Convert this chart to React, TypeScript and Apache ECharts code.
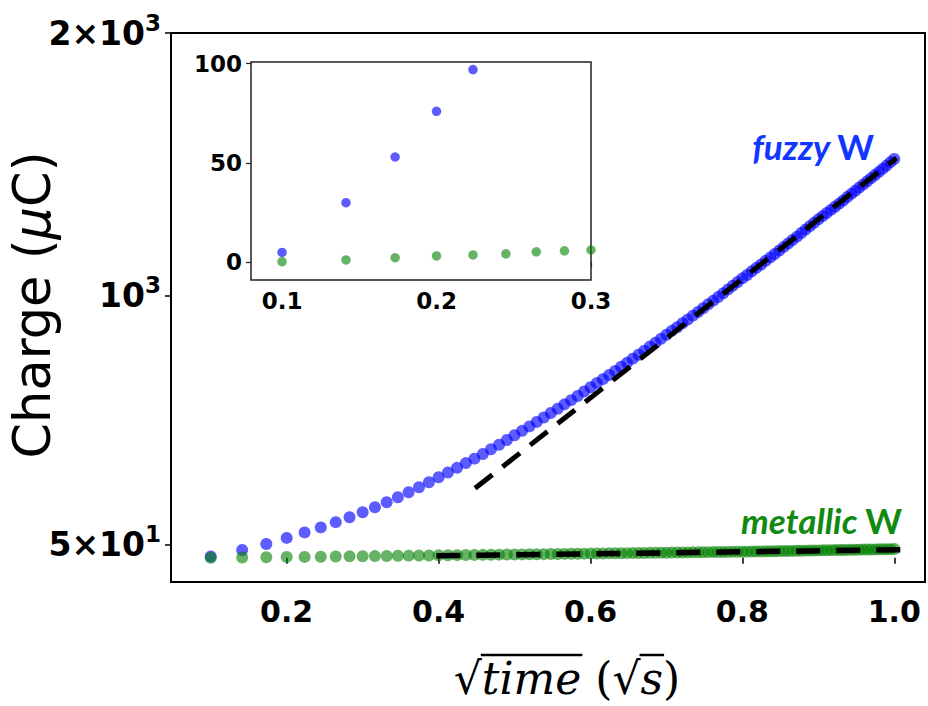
import React, { useEffect, useRef } from "react";
import * as echarts from "echarts";

// sqrt(time) sample positions (s^0.5)
const sqrtTime = [
  0.1, 0.1414, 0.1732, 0.2, 0.2236, 0.2449, 0.2646, 0.2828, 0.3, 0.3162,
  0.3317, 0.3464, 0.3606, 0.3742, 0.3873, 0.4, 0.4123, 0.4243, 0.4359, 0.4472,
  0.4583, 0.469, 0.4796, 0.4899, 0.5, 0.5099, 0.5196, 0.5292, 0.5385, 0.5477,
  0.5568, 0.5657, 0.5745, 0.5831, 0.5916, 0.6, 0.6083, 0.6164, 0.6245, 0.6325,
  0.6403, 0.6481, 0.6557, 0.6633, 0.6708, 0.6782, 0.6856, 0.6928, 0.7, 0.7071,
  0.7141, 0.7211, 0.728, 0.7348, 0.7416, 0.7483, 0.755, 0.7616, 0.7681, 0.7746,
  0.781, 0.7874, 0.7937, 0.8, 0.8062, 0.8124, 0.8185, 0.8246, 0.8307, 0.8367,
  0.8426, 0.8485, 0.8544, 0.8602, 0.866, 0.8718, 0.8775, 0.8832, 0.8888, 0.8944,
  0.9, 0.9055, 0.911, 0.9165, 0.922, 0.9274, 0.9327, 0.9381, 0.9434, 0.9487,
  0.9539, 0.9592, 0.9644, 0.9695, 0.9747, 0.9798, 0.9849, 0.9899, 0.995, 1.0,
];

// fuzzy W charge (µC)
const fuzzyCharge = [
  5, 30, 53, 76, 97, 116, 136, 155, 174, 193,
  212, 231, 250, 269, 288, 307, 325, 343, 361, 378,
  396, 414, 431, 449, 467, 484, 501, 518, 535, 552,
  568, 585, 601, 617, 634, 650, 666, 681, 697, 712,
  728, 743, 759, 774, 789, 805, 820, 835, 850, 865,
  879, 894, 908, 923, 937, 951, 966, 980, 994, 1008,
  1023, 1037, 1051, 1065, 1078, 1092, 1105, 1118, 1132, 1145,
  1158, 1171, 1185, 1198, 1211, 1224, 1238, 1251, 1264, 1277,
  1290, 1302, 1314, 1326, 1338, 1350, 1362, 1375, 1387, 1399,
  1411, 1423, 1435, 1447, 1459, 1471, 1483, 1495, 1508, 1520,
];

// metallic W charge (µC)
const metallicCharge = [
  0.3, 1.2, 2.3, 3.2, 3.7, 4.3, 5.3, 5.8, 6.2, 6.8,
  7.3, 7.8, 8.3, 8.7, 9.1, 9.6, 10.0, 10.4, 10.8, 11.2,
  11.5, 11.9, 12.2, 12.6, 12.9, 13.2, 13.5, 13.9, 14.2, 14.5,
  14.8, 15.1, 15.4, 15.7, 16.0, 16.3, 16.6, 16.8, 17.1, 17.4,
  17.7, 17.9, 18.2, 18.5, 18.7, 19.0, 19.2, 19.5, 19.7, 20.0,
  20.2, 20.5, 20.7, 21.0, 21.2, 21.4, 21.7, 21.9, 22.1, 22.4,
  22.6, 22.8, 23.0, 23.3, 23.6, 23.9, 24.2, 24.5, 24.8, 25.1,
  25.4, 25.7, 26.0, 26.3, 26.6, 26.9, 27.2, 27.5, 27.8, 28.1,
  28.4, 28.7, 29.0, 29.3, 29.5, 29.8, 30.1, 30.4, 30.6, 30.9,
  31.2, 31.4, 31.7, 32.0, 32.2, 32.5, 32.7, 33.0, 33.2, 33.5,
];

// linear fits (dashed)
const fuzzyFitX = [0.448, 1.003];
const fuzzyFitY = [265, 1524];
const metallicFitX = [0.397, 1.015];
const metallicFitY = [8, 31];

// ticks
const mainXTicks = [0.2, 0.4, 0.6, 0.8, 1.0];
const mainYTicks = [50, 1000, 2000];
const mainYMantissa = ["5×10", "10", "2×10"];
const mainYExponent = ["1", "3", "3"];
const insetXTicks = [0.1, 0.2, 0.3];
const insetYTicks = [0, 50, 100];

const seriesLabels = ["fuzzy", "metallic"];

export default function App() {
  const ref = useRef<HTMLDivElement>(null);

  useEffect(() => {
    if (!ref.current) return;
    const chart = echarts.init(ref.current, null, { renderer: "svg" });

    const canvas = document.createElement("canvas");
    const ctx = canvas.getContext("2d")!;
    const tw = (font: string, s: string) => {
      ctx.font = font;
      return ctx.measureText(s).width;
    };

    // x-axis title pieces
    const fs = 44;
    const fam = '"DejaVu Serif"';
    const upright = `${fs}px ${fam}`;
    const ital = `italic ${fs}px ${fam}`;
    const pieces = [
      { t: "√", f: upright, it: false, bar: false },
      { t: "time", f: ital, it: true, bar: true },
      { t: " (", f: upright, it: false, bar: false },
      { t: "√", f: upright, it: false, bar: false },
      { t: "s", f: ital, it: true, bar: true },
      { t: ")", f: upright, it: false, bar: false },
    ];
    const widths = pieces.map((p) => tw(p.f, p.t));
    const total = widths.reduce((a, b) => a + b, 0);
    let cx = 567 - total / 2;
    const titleY = 678;
    const barY = 655;
    const xTitleChildren: any[] = [];
    pieces.forEach((p, i) => {
      xTitleChildren.push({
        type: "text",
        x: cx,
        y: titleY,
        style: {
          text: p.t,
          fontSize: fs,
          fontFamily: "DejaVu Serif",
          fontStyle: p.it ? "italic" : "normal",
          fill: "#000",
          align: "left",
          verticalAlign: "middle",
        },
      });
      if (p.bar) {
        xTitleChildren.push({
          type: "line",
          shape: { x1: cx - 1, y1: barY, x2: cx + widths[i] + 1, y2: barY },
          style: { stroke: "#000", lineWidth: 2.5 },
        });
      }
      cx += widths[i];
    });

    const tickFont = {
      fontFamily: "DejaVu Sans",
      fontWeight: "bold" as const,
      color: "#000",
    };

    const mainData = (ys: number[]) => sqrtTime.map((x, i) => [x, ys[i]]);
    const blue = "rgba(0,0,255,0.8)";
    const green = "rgba(0,128,0,0.75)";
    const labelFs = 35;

    chart.setOption({
      animation: false,
      backgroundColor: "#fff",
      grid: [
        {
          left: 171,
          top: 33,
          width: 754,
          height: 549,
          show: true,
          borderColor: "#000",
          borderWidth: 2,
          backgroundColor: "transparent",
          outerBoundsMode: "none",
        },
        {
          left: 251,
          top: 62,
          width: 340,
          height: 218,
          show: true,
          borderColor: "#222",
          borderWidth: 1.5,
          backgroundColor: "#fff",
          outerBoundsMode: "none",
          z: 5,
        },
      ],
      xAxis: [
        {
          type: "value",
          gridIndex: 0,
          min: 0.0477,
          max: 1.0404,
          axisLine: { show: false },
          splitLine: { show: false },
          axisTick: {
            show: true,
            customValues: mainXTicks,
            length: 6,
            lineStyle: { color: "#000", width: 1.5 },
          },
          axisLabel: {
            customValues: mainXTicks,
            formatter: (v: number) => v.toFixed(1),
            fontSize: 30,
            margin: 14,
            ...tickFont,
          },
        },
        {
          type: "value",
          gridIndex: 1,
          min: 0.0799,
          max: 0.3,
          axisLine: { show: false },
          splitLine: { show: false },
          axisTick: {
            show: true,
            customValues: insetXTicks,
            length: 5,
            lineStyle: { color: "#222", width: 1.2 },
          },
          axisLabel: {
            customValues: insetXTicks,
            formatter: (v: number) => v.toFixed(1),
            fontSize: 23,
            margin: 9,
            ...tickFont,
          },
        },
      ],
      yAxis: [
        {
          type: "value",
          gridIndex: 0,
          min: -92,
          max: 2000,
          axisLine: { show: false },
          splitLine: { show: false },
          axisTick: {
            show: true,
            customValues: mainYTicks,
            length: 6,
            lineStyle: { color: "#000", width: 1.5 },
          },
          axisLabel: {
            customValues: mainYTicks,
            margin: 10,
            formatter: (v: number) => {
              const i = mainYTicks.indexOf(v);
              return `{b|${mainYMantissa[i]}}{s|${mainYExponent[i]}}`;
            },
            rich: {
              b: { fontSize: 33, lineHeight: 44, ...tickFont },
              s: { fontSize: 23, verticalAlign: "top", ...tickFont },
            },
          },
        },
        {
          type: "value",
          gridIndex: 1,
          min: -8.9,
          max: 100.8,
          axisLine: { show: false },
          splitLine: { show: false },
          axisTick: {
            show: true,
            customValues: insetYTicks,
            length: 5,
            lineStyle: { color: "#222", width: 1.2 },
          },
          axisLabel: {
            customValues: insetYTicks,
            formatter: (v: number) => String(v),
            fontSize: 23,
            margin: 9,
            ...tickFont,
          },
        },
      ],
      series: [
        {
          name: seriesLabels[0],
          type: "scatter",
          xAxisIndex: 0,
          yAxisIndex: 0,
          data: mainData(fuzzyCharge),
          symbolSize: 12,
          itemStyle: { color: blue },
          z: 2,
        },
        {
          name: seriesLabels[1],
          type: "scatter",
          xAxisIndex: 0,
          yAxisIndex: 0,
          data: mainData(metallicCharge),
          symbolSize: 12,
          itemStyle: { color: green },
          z: 2,
        },
        {
          type: "line",
          xAxisIndex: 0,
          yAxisIndex: 0,
          data: fuzzyFitX.map((x, i) => [x, fuzzyFitY[i]]),
          symbol: "none",
          lineStyle: { color: "#000", width: 5, type: [22, 13], cap: "butt" },
          z: 4,
        },
        {
          type: "line",
          xAxisIndex: 0,
          yAxisIndex: 0,
          data: metallicFitX.map((x, i) => [x, metallicFitY[i]]),
          symbol: "none",
          lineStyle: { color: "#000", width: 5.5, type: [24, 16], cap: "butt" },
          z: 4,
        },
        {
          name: seriesLabels[0] + " inset",
          type: "scatter",
          xAxisIndex: 1,
          yAxisIndex: 1,
          data: mainData(fuzzyCharge),
          symbolSize: 9.5,
          clip: true,
          itemStyle: { color: blue },
          z: 6,
        },
        {
          name: seriesLabels[1] + " inset",
          type: "scatter",
          xAxisIndex: 1,
          yAxisIndex: 1,
          data: mainData(metallicCharge),
          symbolSize: 9.5,
          clip: true,
          itemStyle: { color: green },
          z: 6,
        },
      ],
      graphic: [
        {
          type: "text",
          x: 874,
          y: 146,
          z: 10,
          style: {
            text: "{i|fuzzy }{b|W}",
            align: "right",
            verticalAlign: "middle",
            fill: "#1036ff",
            rich: {
              i: { fontFamily: "Lato", fontSize: labelFs, fontWeight: "bold", fontStyle: "italic", fill: "#1036ff" },
              b: { fontFamily: "Lato", fontSize: labelFs, fontWeight: "bold", fill: "#1036ff" },
            },
          },
        },
        {
          type: "text",
          x: 902,
          y: 520,
          z: 10,
          style: {
            text: "{i|metallic }{b|W}",
            align: "right",
            verticalAlign: "middle",
            fill: "#128a12",
            rich: {
              i: { fontFamily: "Lato", fontSize: labelFs, fontWeight: "bold", fontStyle: "italic", fill: "#128a12" },
              b: { fontFamily: "Lato", fontSize: labelFs, fontWeight: "bold", fill: "#128a12" },
            },
          },
        },
        {
          type: "text",
          x: 32,
          y: 305,
          rotation: Math.PI / 2,
          z: 10,
          style: {
            text: "{n|Charge (}{m|μ}{n|C)}",
            align: "center",
            verticalAlign: "middle",
            fill: "#000",
            rich: {
              n: { fontFamily: "DejaVu Sans", fontSize: 51, fill: "#000" },
              m: { fontFamily: "DejaVu Sans", fontSize: 51, fontStyle: "italic", fill: "#000" },
            },
          },
        },
        { type: "group", children: xTitleChildren, z: 10 },
      ],
    });

    return () => chart.dispose();
  }, []);

  return (
    <div
      ref={ref}
      style={{ position: "fixed", left: 0, top: 0, width: 928, height: 706, background: "#fff" }}
    />
  );
}
